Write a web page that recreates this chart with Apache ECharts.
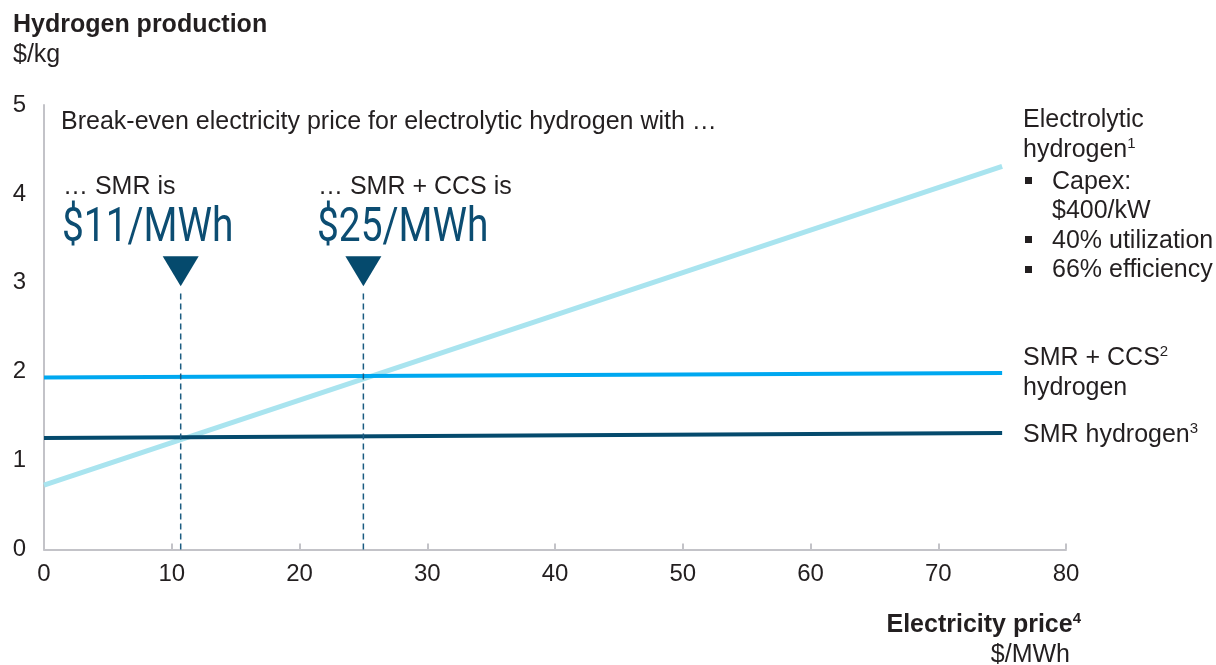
<!DOCTYPE html>
<html>
<head>
<meta charset="utf-8">
<script src="https://cdn.jsdelivr.net/npm/echarts@6/dist/echarts.min.js"></script>
<style>
  html, body { margin: 0; padding: 0; background: #fff; }
  #chart { width: 1216px; height: 665px; }
</style>
</head>
<body>
<div id="chart"></div>
<script>
// data
var xTicks = [0, 10, 20, 30, 40, 50, 60, 70, 80]
var yTicks = [0, 1, 2, 3, 4, 5]
var electrolytic = [[0, 0.725], [75, 4.31]]
var smrCcs = [[0, 1.935], [75, 1.985]]
var smr = [[0, 1.255], [75, 1.31]]
var breakEven = [10.7, 25]
var breakEvenLabels = ['$11/MWh', '$25/MWh']
var markerTop = 2.92
var markerY = 3.13

var chart = echarts.init(document.getElementById('chart'))
var textColor = '#231f20'
var navy = '#054a6d'
var font = '"Liberation Sans", Arial, sans-serif'
var fs = 25
var tickFs = 24

// dashed drop lines from the break-even points
var dropData = []
breakEven.forEach(function (x, i) {
  if (i > 0) dropData.push(['-', '-'])
  dropData.push([x, 0])
  dropData.push([x, markerTop])
})

function txt (x, y, text, opts) {
  opts = opts || {}
  return {
    type: 'text',
    x: x,
    y: y,
    style: {
      text: text,
      font: (opts.bold ? 'bold ' : '') + fs + 'px ' + font,
      fill: textColor,
      align: opts.align || 'left',
      verticalAlign: 'middle'
    }
  }
}

function supTxt (x, y, main, sup, opts) {
  opts = opts || {}
  var w = opts.bold ? 'bold ' : ''
  return {
    type: 'text',
    x: x,
    y: y,
    style: {
      text: '{a|' + main + '}{s|' + sup + '}',
      fill: textColor,
      align: opts.align || 'left',
      verticalAlign: 'middle',
      rich: {
        a: { font: w + fs + 'px ' + font, fill: textColor },
        s: { font: w + '15px ' + font, fill: textColor, padding: [0, 0, 12, 0] }
      }
    }
  }
}

var option = {
  animation: false,
  grid: { left: 44, right: 150, top: 105, bottom: 115.5 },
  xAxis: {
    type: 'value',
    min: xTicks[0],
    max: xTicks[xTicks.length - 1],
    interval: 10,
    axisLine: { lineStyle: { color: '#c3c3c8', width: 2 } },
    axisTick: { inside: true, length: 6, lineStyle: { color: '#c3c3c8', width: 2 } },
    axisLabel: { fontSize: tickFs, color: textColor, fontFamily: font, margin: 13 },
    splitLine: { show: false }
  },
  yAxis: {
    type: 'value',
    min: yTicks[0],
    max: yTicks[yTicks.length - 1],
    interval: 1,
    axisLine: { show: true, lineStyle: { color: '#c3c3c8', width: 2 } },
    axisTick: { show: false },
    axisLabel: { fontSize: tickFs, color: textColor, fontFamily: font, margin: 18 },
    splitLine: { show: false }
  },
  series: [
    {
      name: 'Electrolytic hydrogen',
      type: 'line',
      data: electrolytic,
      symbol: 'none',
      lineStyle: { color: '#a9e4ef', width: 5 }
    },
    {
      name: 'SMR + CCS hydrogen',
      type: 'line',
      data: smrCcs,
      symbol: 'none',
      lineStyle: { color: '#00a8f0', width: 4 }
    },
    {
      name: 'SMR hydrogen',
      type: 'line',
      data: smr,
      symbol: 'none',
      lineStyle: { color: navy, width: 4 }
    },
    {
      name: 'drop',
      type: 'line',
      data: dropData,
      symbol: 'none',
      connectNulls: false,
      lineStyle: { color: '#1b5c82', width: 1.5, type: [6, 4] }
    },
    {
      name: 'marker',
      type: 'scatter',
      data: breakEven.map(function (x) { return [x, markerY] }),
      symbol: 'triangle',
      symbolRotate: 180,
      symbolSize: [36, 30],
      itemStyle: { color: navy, opacity: 1 }
    }
  ],
  graphic: [
    txt(13, 25, 'Hydrogen production', { bold: true }),
    txt(13, 55, '$/kg'),
    txt(61, 122, 'Break-even electricity price for electrolytic hydrogen with …'),
    txt(63, 187, '… SMR is'),
    txt(318, 187, '… SMR + CCS is'),
    { type: 'text', x: 62, y: 229, scaleX: 0.81, style: { text: breakEvenLabels[0], font: '48px Roboto', fill: '#0c4d72', verticalAlign: 'middle' } },
    { type: 'text', x: 317, y: 229, scaleX: 0.81, style: { text: breakEvenLabels[1], font: '48px Roboto', fill: '#0c4d72', verticalAlign: 'middle' } },
    txt(1023, 120, 'Electrolytic'),
    supTxt(1023, 150, 'hydrogen', '1'),
    { type: 'rect', shape: { x: 1025, y: 177, width: 7, height: 7 }, style: { fill: textColor } },
    txt(1052, 182, 'Capex:'),
    txt(1052, 211, '$400/kW'),
    { type: 'rect', shape: { x: 1025, y: 236, width: 7, height: 7 }, style: { fill: textColor } },
    txt(1052, 241, '40% utilization'),
    { type: 'rect', shape: { x: 1025, y: 266, width: 7, height: 7 }, style: { fill: textColor } },
    txt(1052, 270, '66% efficiency'),
    supTxt(1023, 358, 'SMR + CCS', '2'),
    txt(1023, 388, 'hydrogen'),
    supTxt(1023, 435, 'SMR hydrogen', '3'),
    supTxt(1081, 625, 'Electricity price', '4', { bold: true, align: 'right' }),
    txt(1070, 655, '$/MWh', { align: 'right' })
  ]
}

chart.setOption(option)
</script>
</body>
</html>
